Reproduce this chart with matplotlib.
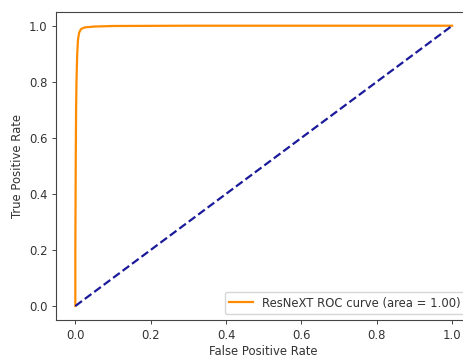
import matplotlib
matplotlib.use("Agg")
import matplotlib.pyplot as plt

fpr = [0.0, 0.0, 0.001, 0.002, 0.003, 0.005, 0.007, 0.010, 0.015, 0.025, 0.05, 0.1, 0.3, 1.0]
tpr = [0.0, 0.2, 0.5, 0.7, 0.8, 0.9, 0.95, 0.975, 0.988, 0.994, 0.997, 0.999, 1.0, 1.0]
roc_auc = 1.00
label = "ResNeXT ROC curve (area = %0.2f)" % roc_auc

plt.rcParams['font.size'] = 8.4
plt.rcParams['text.color'] = '#333333'
plt.rcParams['xtick.labelcolor'] = '#333333'
plt.rcParams['ytick.labelcolor'] = '#333333'
plt.rcParams['axes.labelcolor'] = '#333333'
fig = plt.figure(figsize=(4.64, 3.58), dpi=100)
ax = fig.add_axes([56.5/464, 38/358, (471-56.5)/464, (320-11.7)/358])
ax.plot(fpr, tpr, color='darkorange', lw=1.6, label=label)
ax.plot([0, 1], [0, 1], color='#1a1a9a', lw=1.6, linestyle='--')
ax.set_xlabel('False Positive Rate', labelpad=2.0)
ax.set_ylabel('True Positive Rate')
ax.legend(loc='lower right')
for s in ax.spines.values():
    s.set_linewidth(0.8)
    s.set_color('#444444')
ax.spines['right'].set_visible(False)
ax.tick_params(width=0.7, length=2.8, color='#444444')
fig.savefig('out.png', dpi=100)
